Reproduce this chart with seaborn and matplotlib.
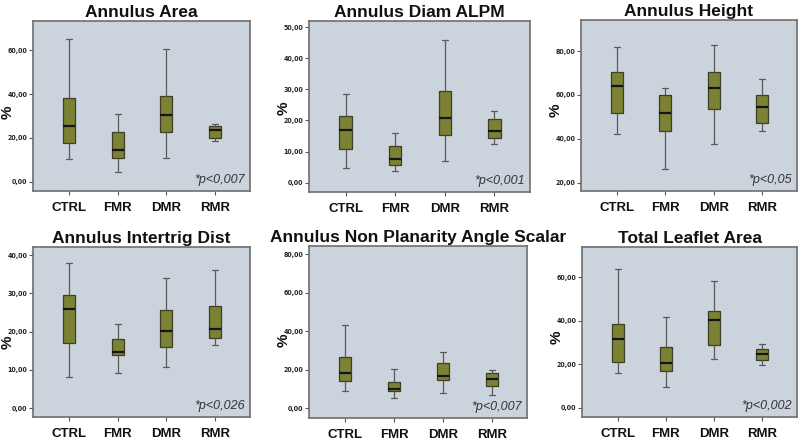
import matplotlib
matplotlib.use("Agg")
import matplotlib.pyplot as plt
import seaborn as sns
import pandas as pd
import numpy as np

# ---- data: five-number summaries (min, Q1, median, Q3, max) per group ----
categories = ["CTRL", "FMR", "DMR", "RMR"]

annulus_area = [[10.1, 17.8, 25.6, 38.1, 65.0],
                [4.6, 11.0, 14.3, 22.5, 31.1],
                [10.7, 22.7, 30.5, 39.0, 60.8],
                [18.6, 20.0, 23.8, 25.3, 26.4]]
annulus_diam_alpm = [[4.6, 10.9, 16.9, 21.5, 28.6],
                     [3.9, 5.8, 7.5, 11.9, 16.0],
                     [6.9, 15.3, 20.7, 29.4, 45.8],
                     [12.4, 14.4, 16.6, 20.4, 23.1]]
annulus_height = [[42.4, 51.8, 63.9, 70.3, 81.7],
                  [26.4, 43.5, 51.7, 59.9, 63.4],
                  [37.8, 53.7, 63.1, 70.7, 82.6],
                  [43.6, 47.3, 54.7, 60.2, 67.5]]
annulus_intertrig = [[8.2, 17.1, 26.0, 29.5, 37.8],
                     [9.3, 13.9, 14.8, 18.2, 22.1],
                     [10.8, 16.0, 20.1, 25.6, 33.9],
                     [16.6, 18.4, 20.8, 26.8, 36.2]]
non_planarity = [[9.0, 14.1, 18.1, 26.8, 43.3],
                 [5.2, 8.7, 9.9, 13.4, 20.5],
                 [7.7, 14.8, 16.5, 23.3, 29.4],
                 [7.0, 11.3, 15.3, 18.3, 20.0]]
total_leaflet = [[15.8, 21.1, 31.5, 38.3, 63.8],
                 [9.6, 16.8, 20.7, 27.9, 41.5],
                 [22.2, 28.6, 40.2, 44.2, 58.0],
                 [19.7, 21.7, 24.8, 26.9, 29.2]]

titles = ["Annulus Area", "Annulus Diam ALPM", "Annulus Height",
          "Annulus Intertrig Dist", "Annulus Non Planarity Angle Scalar",
          "Total Leaflet Area"]
p_values = ["*p<0,007", "*p<0,001", "*p<0,05", "*p<0,026", "*p<0,007", "*p<0,002"]
y_ticks = [[0, 20, 40, 60], [0, 10, 20, 30, 40, 50], [20, 40, 60, 80],
           [0, 10, 20, 30, 40], [0, 20, 40, 60, 80], [0, 20, 40, 60]]
y_limits = [(-4.3, 73.4), (-3.0, 52.0), (16.2, 94.2),
            (-2.3, 42.1), (-5.2, 84.3), (-4.3, 73.8)]

panels = [annulus_area, annulus_diam_alpm, annulus_height,
          annulus_intertrig, non_planarity, total_leaflet]

# axes rectangles in pixels (left, top, right, bottom) on an 800x448 canvas
W, H = 800, 448
rects_px = [(33, 21, 250, 191), (309, 21, 530, 192), (581, 20, 797, 191),
            (33, 247, 250, 417), (309, 246, 527, 418), (582, 247, 797, 417)]
label_y = [0.465, 0.49, 0.47, 0.44, 0.45, 0.47]

sns.set_theme(style="white")
plt.rcParams["font.family"] = ["Liberation Sans", "DejaVu Sans"]
narrow = ["Liberation Sans Narrow", "DejaVu Sans"]

fig = plt.figure(figsize=(8, 4.48), dpi=100)
fig.patch.set_facecolor("white")

bg = "#CBD3DD"
olive = "#7C8233"
frame = "#6E6E6E"

for i, (summ, title, pv, yt, yl, r, ly) in enumerate(
        zip(panels, titles, p_values, y_ticks, y_limits, rects_px, label_y)):
    l, t, rr, b = r
    ax = fig.add_axes([l / W, 1 - b / H, (rr - l) / W, (b - t) / H])
    rows = []
    for cat, vals in zip(categories, summ):
        for v in vals:
            rows.append({"group": cat, "value": v})
    df = pd.DataFrame(rows)
    sns.boxplot(data=df, x="group", y="value", order=categories, ax=ax,
                whis=(0, 100), width=0.25, color=olive, saturation=1,
                linecolor="#3E3E22", linewidth=0.9, showfliers=False,
                medianprops=dict(color="#151515", linewidth=1.6),
                whiskerprops=dict(color="#5A5A5A", linewidth=0.9),
                capprops=dict(color="#5A5A5A", linewidth=0.9))
    ax.set_facecolor(bg)
    ax.set_xlim(-0.74, 3.72)
    ax.set_ylim(*yl)
    ax.set_yticks(yt)
    ax.set_yticklabels([f"{v:.2f}".replace(".", ",") for v in yt],
                       fontsize=5.0, fontweight="bold", color="#222222",
                       family=narrow, fontstretch="condensed")
    ax.set_xticks(range(len(categories)))
    ax.set_xticklabels(categories, fontsize=9.5, fontweight="bold", color="#111111")
    ax.tick_params(axis="both", which="both", direction="out", length=3,
                   width=0.8, color="#555555", left=True, bottom=True)
    ax.tick_params(axis="x", pad=5)
    ax.tick_params(axis="y", pad=1)
    ax.set_xlabel("")
    ax.set_ylabel("%", fontsize=11, fontweight="bold", color="#111111")
    ax.yaxis.set_label_coords(-18 / (rr - l), ly)
    ax.set_title(title, fontsize=12.5, fontweight="bold", color="#111111", pad=3)
    for sp in ax.spines.values():
        sp.set_color(frame)
        sp.set_linewidth(1.2)
        sp.set_visible(True)
    ax.text(0.975, 0.03, pv, transform=ax.transAxes, ha="right", va="bottom",
            fontsize=9, style="italic", color="#333333")

fig.savefig("out.png", dpi=100, facecolor="white")
